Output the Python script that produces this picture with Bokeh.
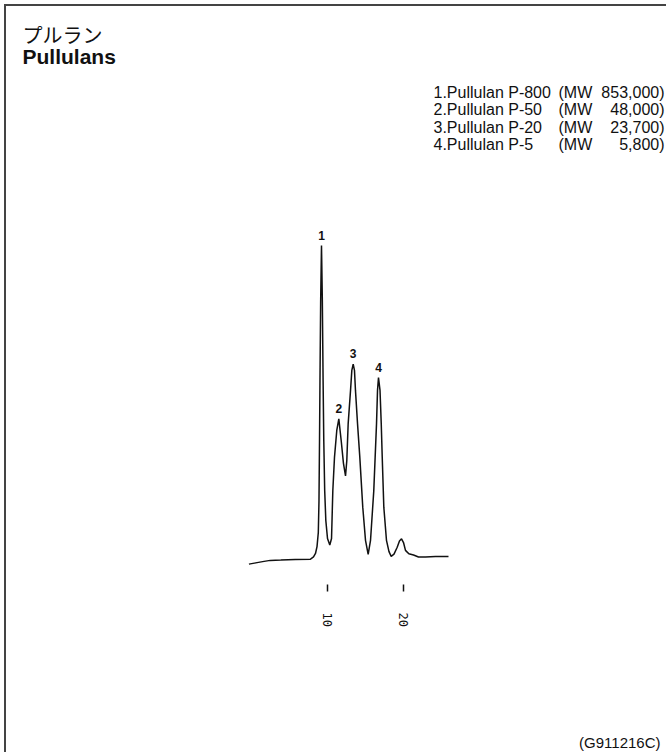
from bokeh.plotting import figure
from bokeh.layouts import column
from bokeh.models import Range1d, FixedTicker
from bokeh.core.properties import value
from bokeh.embed import file_html
from bokeh.resources import INLINE

# ---------------- data ----------------
time_min = [-0.3, 0.6, 1.5, 2.5, 3.9, 5.8, 7.8, 8.2, 8.46, 8.66, 8.83, 8.92, 8.99,
            9.05, 9.14, 9.25, 9.36, 9.46, 9.55, 9.67, 9.82, 10.04, 10.34, 10.57,
            10.74, 10.96, 11.26, 11.53, 11.84, 12.14, 12.41, 12.58, 12.76, 13.07,
            13.24, 13.42, 13.59, 13.72, 13.99, 14.29, 14.68, 15.04, 15.39, 15.70,
            16.13, 16.49, 16.62, 16.75, 16.95, 17.11, 17.24, 17.45, 17.80, 18.13,
            18.42, 18.79, 19.21, 19.51, 19.78, 20.04, 20.30, 20.74, 21.36, 22.01,
            22.93, 24.25, 25.96]
signal = [-1.8, -1.4, -1.0, -0.6, -0.5, -0.3, -0.2, 0.5, 1.6, 3.8, 8.3, 18.5, 37.7,
          56.9, 82.4, 100.0, 82.4, 56.9, 37.7, 21.7, 12.1, 6.4, 4.3, 6.4,
          21.7, 32.4, 40.9, 44.6, 37.7, 30.4, 26.4, 31.3, 43.1, 53.7,
          60.1, 62.1, 60.1, 53.7, 43.1, 32.4, 16.4, 5.8, 1.3, 5.8,
          21.7, 43.1, 53.7, 57.8, 53.7, 43.1, 32.4, 16.4, 5.8, 2.2,
          0.7, 1.4, 3.6, 5.6, 6.3, 5.1, 2.6, 1.5, 1.1, 0.5,
          0.5, 0.6, 0.6]

peak_ids = ["1", "2", "3", "4"]
peak_time = [9.25, 11.53, 13.42, 16.75]
peak_height = [100.0, 44.6, 62.1, 57.8]

tick_minutes = [10, 20]

title_jp = "プルラン"
title_en = "Pullulans"
legend_names = ["1.Pullulan P-800", "2.Pullulan P-50", "3.Pullulan P-20", "4.Pullulan P-5"]
legend_mw_tag = ["(MW", "(MW", "(MW", "(MW"]
legend_mw = ["853,000)", "48,000)", "23,700)", "5,800)"]
code_label = "(G911216C)"

# ---------------- layout (page pixels) ----------------
W = 660
H1, H2 = 700, 46            # main chart / footer strip
OX, OY = 6, 6               # canvas origin on the page (4px margin + 2px border)
FRAME_BOTTOM = 578          # canvas y where the frame ends (axis starts)
X10_PX, PX_PER_MIN = 326.7, 7.6
BASE_PX, PX_PER_UNIT = 558.0, 3.13


def t_of(px):
    return 10 + (px - X10_PX) / PX_PER_MIN


def s_of(py):
    return (BASE_PX - py) / PX_PER_UNIT


p = figure(width=W, height=H1, output_backend="svg", toolbar_location=None,
           title=None, y_axis_location=None,
           x_range=Range1d(t_of(OX), t_of(OX + W)),
           y_range=Range1d(s_of(OY + FRAME_BOTTOM), s_of(OY)),
           min_border_left=0, min_border_right=0, min_border_top=0,
           min_border_bottom=H1 - FRAME_BOTTOM)
p.outline_line_color = None
p.grid.visible = False
p.background_fill_color = "white"
p.border_fill_color = "white"

p.extra_x_ranges = {"px": Range1d(OX, OX + W)}
p.extra_y_ranges = {"px": Range1d(OY + FRAME_BOTTOM, OY)}

# chromatogram trace
p.line(time_min, signal, line_color="#111111", line_width=1.5)

# peak numbers
p.text(x=peak_time, y=peak_height, text=peak_ids, text_align="center",
       text_baseline="bottom", y_offset=-6, text_font=value("Liberation Sans"),
       text_font_style="bold", text_font_size="12px", text_color="#111111")

# x axis: retention time ticks
ax = p.xaxis[0]
ax.ticker = FixedTicker(ticks=tick_minutes)
ax.axis_line_color = None
ax.minor_tick_line_color = None
ax.major_tick_in = 0
ax.major_tick_out = 7
ax.major_tick_line_color = "#111111"
ax.major_tick_line_width = 1.5
ax.major_label_orientation = "vertical"
ax.major_label_standoff = 21
ax.major_label_text_font = "DejaVu Sans Mono"
ax.major_label_text_font_size = "12px"
ax.major_label_text_color = "#111111"

# titles
p.text(x=[22], y=[34], text=[title_jp], x_range_name="px", y_range_name="px",
       text_font=value("Noto Sans CJK JP"), text_font_size="20px",
       text_align="left", text_baseline="middle", text_color="#111111")
p.text(x=[22], y=[56], text=[title_en], x_range_name="px", y_range_name="px",
       text_font=value("Liberation Sans"), text_font_style="bold", text_font_size="21px",
       text_align="left", text_baseline="middle", text_color="#111111")

# legend block
row_y = [91.5 + 17.5 * i for i in range(len(legend_names))]
common = dict(x_range_name="px", y_range_name="px", text_font=value("Liberation Sans"),
              text_font_size="16px", text_baseline="middle", text_color="#111111")
p.text(x=[433] * 4, y=row_y, text=legend_names, text_align="left", **common)
p.text(x=[558] * 4, y=row_y, text=legend_mw_tag, text_align="left", **common)
p.text(x=[664] * 4, y=row_y, text=legend_mw, text_align="right", **common)

# footer strip with the figure code at the bottom right
TOP2 = OY + H1
f = figure(width=W, height=H2, output_backend="svg", toolbar_location=None,
           title=None, x_axis_location=None, y_axis_location=None,
           x_range=Range1d(OX, OX + W), y_range=Range1d(TOP2 + H2, TOP2),
           min_border=0)
f.outline_line_color = None
f.grid.visible = False
f.background_fill_color = "white"
f.border_fill_color = "white"
f.text(x=[660], y=[750], text=[code_label], text_align="right", text_baseline="bottom",
       text_font=value("Liberation Sans"), text_font_size="15px", text_color="#111111")

page = column(p, f, spacing=0,
              styles={"margin-left": "4px", "margin-top": "4px",
                      "border-left": "2px solid #444444", "border-top": "2px solid #444444"})

open("out.html", "w").write(file_html(page, INLINE))
